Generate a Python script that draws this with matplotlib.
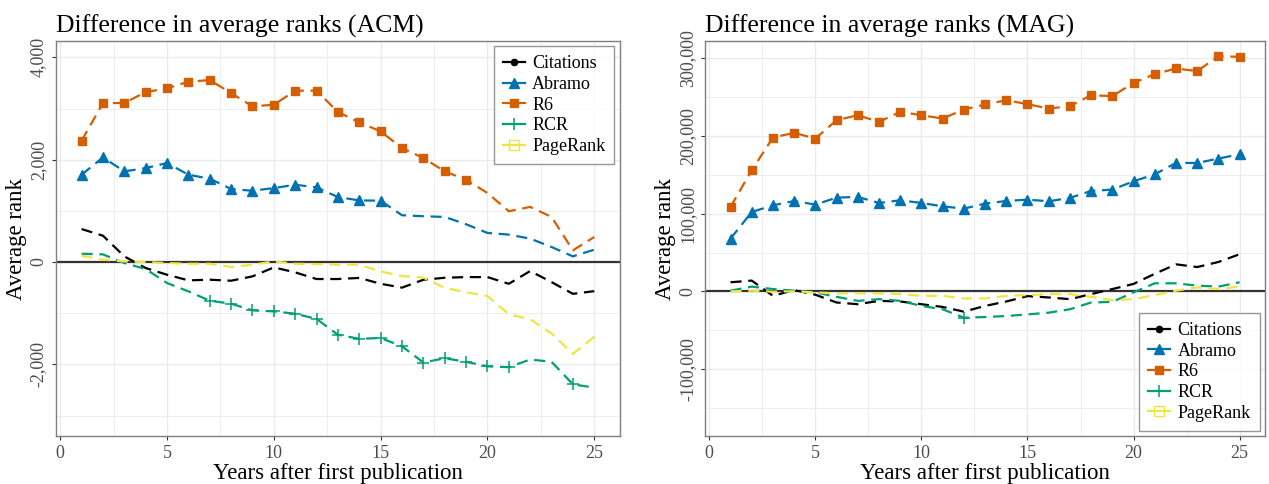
""" rank_differences.py
Difference in average ranks, ACM vs MAG. """

import matplotlib
matplotlib.use('Agg')
import matplotlib.pyplot as plt
from matplotlib.lines import Line2D
from matplotlib.ticker import FuncFormatter, MultipleLocator

plt.rcParams['font.family'] = ['Liberation Serif', 'DejaVu Serif']

years = list(range(1, 26))
series_names = ['Citations', 'Abramo', 'R6', 'RCR', 'PageRank']

# ACM panel
acm_citations = [645, 515, 111, -117, -248, -358, -345, -365, -280, -104, -202, -332, -332,
                 -310, -425, -500, -346, -307, -294, -294, -425, -176, -392, -621, -569]
acm_abramo = [1707, 2046, 1772, 1837, 1935, 1707, 1629, 1427, 1394, 1446, 1511, 1459, 1270,
              1205, 1199, 915, 895, 882, 739, 569, 536, 458, 294, 111, 242]
acm_r6 = [2371, 3108, 3108, 3323, 3394, 3525, 3557, 3303, 3043, 3075, 3349, 3349, 2932,
          2730, 2554, 2228, 2033, 1772, 1609, 1349, 993, 1078, 882, 229, 490]
acm_rcr = [163, 150, -20, -137, -410, -573, -756, -814, -945, -964, -1010, -1112, -1422,
           -1500, -1485, -1648, -1964, -1880, -1950, -2039, -2055, -1905, -1950, -2390, -2455]
acm_pagerank = [124, 46, 13, 0, -20, -33, -33, -98, -52, 13, -33, -39, -52, -52, -183,
                -275, -305, -505, -590, -665, -1020, -1120, -1395, -1795, -1460]

# MAG panel
mag_citations = [11700, 13900, -5700, 1700, -4300, -14300, -16500, -12200, -13000, -16500,
                 -20000, -26100, -18700, -13000, -6100, -7800, -10000, -3500, 3000, 9600,
                 22600, 34800, 31300, 37800, 47800]
mag_abramo = [67800, 102100, 110700, 116300, 111600, 120600, 121500, 113700, 117200, 113700,
              109400, 106400, 112900, 116300, 118000, 115900, 120200, 129200, 130900, 141600,
              150600, 165200, 165200, 170800, 176400]
mag_r6 = [108600, 155800, 197900, 203900, 196600, 220200, 226600, 218000, 230900, 226600,
          222300, 233900, 240400, 245900, 240800, 235200, 238200, 252400, 251100, 268200,
          279400, 286700, 283300, 302600, 301700]
mag_rcr = [900, 6100, 3000, 900, -1300, -7000, -12200, -10000, -12200, -18700, -23000, -33900,
           -33000, -31700, -29600, -27400, -23000, -14300, -13500, -1300, 10400, 10400, 7400,
           6100, 11700]
mag_pagerank = [0, 900, -400, 0, -1300, -2600, -2600, -2600, -3500, -5700, -5700, -9100, -9100,
                -5700, -4800, -3500, -3500, -7000, -11300, -10000, -4800, 900, 5200, 3000, 6100]

# years where a marker is drawn
acm_marked = {'Citations': [], 'Abramo': list(range(1, 16)), 'R6': list(range(1, 20)),
              'RCR': list(range(7, 22)) + [24], 'PageRank': []}
mag_marked = {'Citations': [], 'Abramo': years, 'R6': years, 'RCR': [12], 'PageRank': []}

colors = {'Citations': 'black', 'Abramo': '#0072B2', 'R6': '#D55E00',
          'RCR': '#009E73', 'PageRank': '#F0E442'}
marker_style = {'Citations': dict(marker='o', ms=4.5),
                'Abramo': dict(marker='^', ms=7),
                'R6': dict(marker='s', ms=6),
                'RCR': dict(marker='+', ms=9, mew=1.1),
                'PageRank': dict(marker='s', ms=6.5, mfc='none', mew=1.0)}
DASH = (0, (5, 3))


def fmt(v, pos):
    return f'{v:,.0f}'


def draw_panel(ax, title, data, marked, ylim, major, minor, legend_loc):
    for name in series_names:
        idx = [years.index(y) for y in marked[name]]
        st = marker_style[name] if idx else {}
        ax.plot(years, data[name], color=colors[name], lw=1.6, ls=DASH,
                markevery=idx if idx else None, zorder=3, **st)
    ax.axhline(0, color='#333333', lw=1.6, zorder=2)

    ax.set_xlim(-0.2, 26.2)
    ax.set_ylim(*ylim)
    ax.xaxis.set_major_locator(MultipleLocator(5))
    ax.xaxis.set_minor_locator(MultipleLocator(2.5))
    ax.yaxis.set_major_locator(MultipleLocator(major))
    ax.yaxis.set_minor_locator(MultipleLocator(minor))
    ax.yaxis.set_major_formatter(FuncFormatter(fmt))
    ax.grid(which='major', color='#EBEBEB', lw=1.0, zorder=0)
    ax.grid(which='minor', color='#EBEBEB', lw=0.6, zorder=0)
    ax.set_axisbelow(True)
    ax.tick_params(which='major', length=3, color='#333333', labelcolor='#4D4D4D', labelsize=13)
    ax.tick_params(which='minor', length=0)
    for lab in ax.get_yticklabels():
        lab.set_rotation(90)
        lab.set_va('center')
    for sp in ax.spines.values():
        sp.set_color('#7F7F7F')
        sp.set_linewidth(1.0)

    ax.set_title(title, loc='left', fontsize=18.5, pad=6)
    ax.set_xlabel('Years after first publication', fontsize=16.5, labelpad=1)
    ax.set_ylabel('Average rank', fontsize=16.5, labelpad=2)

    handles = []
    for name in series_names:
        handles.append(Line2D([0], [0], color=colors[name], lw=1.6, ls='-',
                              **marker_style[name]))
    leg = ax.legend(handles, series_names, loc=legend_loc, fontsize=13, frameon=True,
                    fancybox=False, edgecolor='#7F7F7F', handlelength=1.2, handletextpad=0.4,
                    labelspacing=0.2, borderpad=0.5, borderaxespad=0.3)
    leg.get_frame().set_linewidth(1.0)


fig = plt.figure(figsize=(12.69, 4.84), dpi=100)
ax1 = fig.add_axes([0.0441, 0.0992, 0.4444, 0.816])
ax2 = fig.add_axes([0.5556, 0.0992, 0.4413, 0.816])

acm = dict(zip(series_names, [acm_citations, acm_abramo, acm_r6, acm_rcr, acm_pagerank]))
mag = dict(zip(series_names, [mag_citations, mag_abramo, mag_r6, mag_rcr, mag_pagerank]))

draw_panel(ax1, 'Difference in average ranks (ACM)', acm, acm_marked,
           (-3400, 4320), 2000, 1000, 'upper right')
draw_panel(ax2, 'Difference in average ranks (MAG)', mag, mag_marked,
           (-186000, 322000), 100000, 50000, 'lower right')

fig.savefig('out.png', dpi=100)
